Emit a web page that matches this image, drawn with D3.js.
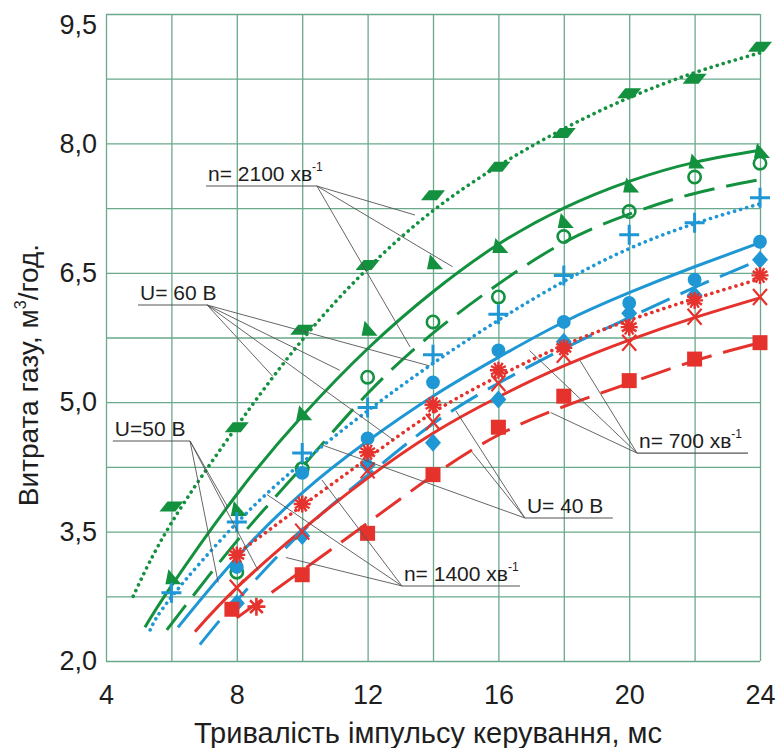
<!DOCTYPE html>
<html>
<head>
<meta charset="utf-8">
<script src="https://cdn.jsdelivr.net/npm/d3@7"></script>
<style>
  body { margin: 0; background: #fff; }
  svg text { font-family: "Liberation Sans", Arial, sans-serif; fill: #1e1e1e; }
</style>
</head>
<body>
<svg id="chart" width="782" height="748"></svg>
<script>
// axis ticks and grid
const xTicks = [4, 8, 12, 16, 20, 24];
const yTicks = [2.0, 3.5, 5.0, 6.5, 8.0, 9.5];
const xGrid = [4, 6, 8, 10, 12, 14, 16, 18, 20, 22, 24];
const yGrid = [2, 2.75, 3.5, 4.25, 5, 5.75, 6.5, 7.25, 8, 8.75, 9.5];

// n = 2100 (green)
const g60Points = [[6, 3.79], [8, 4.71], [10, 5.84], [12, 6.59], [14, 7.40], [16, 7.73], [18, 8.12], [20, 8.58], [22, 8.75], [24, 9.12]];
const g60Curve = [[4.83, 2.75], [6, 3.6], [8, 4.72], [10, 5.72], [12, 6.55], [14, 7.22], [16, 7.74], [18, 8.17], [20, 8.53], [22, 8.82], [24, 9.05]];
const g50Points = [[6, 2.96], [8, 3.75], [10, 4.86], [12, 5.84], [14, 6.61], [16, 6.80], [18, 7.09], [20, 7.50], [22, 7.78], [24, 7.90]];
const g50Curve = [[5.19, 2.39], [6, 2.87], [8, 3.93], [10, 4.84], [12, 5.62], [14, 6.28], [16, 6.83], [18, 7.25], [20, 7.56], [22, 7.78], [24, 7.92]];
const g40Points = [[8, 3.03], [10, 4.23], [12, 5.29], [14, 5.93], [16, 6.22], [18, 6.92], [20, 7.21], [22, 7.61], [24, 7.77]];
const g40Curve = [[5.86, 2.36], [8, 3.39], [10, 4.25], [12, 5.1], [14, 5.8], [16, 6.37], [18, 6.85], [20, 7.18], [22, 7.42], [24, 7.58]];

// n = 1400 (blue)
const b60Points = [[6, 2.79], [8, 3.61], [10, 4.41], [12, 4.94], [14, 5.55], [16, 6.02], [18, 6.47], [20, 6.94], [22, 7.08], [24, 7.37]];
const b60Curve = [[5.35, 2.36], [6, 2.74], [8, 3.6], [10, 4.3], [12, 4.9], [14, 5.45], [16, 5.95], [18, 6.4], [20, 6.78], [22, 7.07], [24, 7.3]];
const b50Points = [[8, 3.09], [10, 4.18], [12, 4.58], [14, 5.23], [16, 5.6], [18, 5.93], [20, 6.15], [22, 6.42], [24, 6.86]];
const b50Curve = [[6.2, 2.39], [8, 3.2], [10, 3.95], [12, 4.55], [14, 5.07], [16, 5.52], [18, 5.93], [20, 6.27], [22, 6.57], [24, 6.85]];
const b40Points = [[8, 2.67], [10, 3.45], [12, 4.27], [14, 4.53], [16, 5.03], [18, 5.7], [20, 6.03], [22, 6.24], [24, 6.65]];
const b40Curve = [[6.87, 2.19], [8, 2.7], [10, 3.5], [12, 4.15], [14, 4.75], [16, 5.22], [18, 5.62], [20, 5.98], [22, 6.33], [24, 6.65]];

// n = 700 (red)
const r60Points = [[8, 3.23], [10, 3.82], [12, 4.42], [14, 4.97], [16, 5.37], [18, 5.63], [20, 5.87], [22, 6.18], [24, 6.47]];
const r60Curve = [[8.1, 3.27], [10, 3.8], [12, 4.35], [14, 4.88], [16, 5.3], [18, 5.66], [20, 5.95], [22, 6.2], [24, 6.43]];
const r50Points = [[8, 2.85], [10, 3.5], [12, 4.21], [14, 4.77], [16, 5.22], [18, 5.55], [20, 5.69], [22, 5.99], [24, 6.22]];
const r50Curve = [[6.72, 2.34], [8, 2.85], [10, 3.52], [12, 4.12], [14, 4.64], [16, 5.06], [18, 5.42], [20, 5.72], [22, 5.98], [24, 6.21]];
const r40Points = [[7.85, 2.6], [10, 3.0], [12, 3.48], [14, 4.16], [16, 4.71], [18, 5.07], [20, 5.25], [22, 5.5], [24, 5.69]];
const r40Curve = [[8.0, 2.5], [10, 3.05], [12, 3.6], [14, 4.15], [16, 4.62], [18, 4.95], [20, 5.22], [22, 5.48], [24, 5.69]];
const r40Extra = [[8.6, 2.63]];

const GREEN = '#13913f', BLUE = '#1e97d4', RED = '#e5322d';

const seriesList = [
  { curve: g60Curve, points: g60Points, color: GREEN, line: 'dot', mark: 'para' },
  { curve: g50Curve, points: g50Points, color: GREEN, line: 'solid', mark: 'tri' },
  { curve: g40Curve, points: g40Points, color: GREEN, line: 'dash', mark: 'ring' },
  { curve: b60Curve, points: b60Points, color: BLUE, line: 'dot', mark: 'plus' },
  { curve: b50Curve, points: b50Points, color: BLUE, line: 'solid', mark: 'dot' },
  { curve: b40Curve, points: b40Points, color: BLUE, line: 'dash', mark: 'diamond' },
  { curve: r60Curve, points: r60Points, color: RED, line: 'dot', mark: 'star' },
  { curve: r50Curve, points: r50Points, color: RED, line: 'solid', mark: 'cross' },
  { curve: r40Curve, points: r40Points, color: RED, line: 'dash', mark: 'square' },
  { curve: null, points: r40Extra, color: RED, line: 'none', mark: 'star4' },
];

// callout labels: underline from x0 to x1 at y, leaders go to points on curves
const notes = [
  { text: 'n= 2100 хв', sup: '-1', x0: 7.06, x1: 10.45, y: 7.506, side: 'left', to: [[13.45, 7.17], [14.6, 6.57], [13.3, 5.64]] },
  { text: 'U= 60 В', sup: '', x0: 4.98, x1: 7.09, y: 6.127, side: 'left', to: [[9.1, 5.3], [11.15, 5.37], [12.8, 4.56], [13.9, 5.42]] },
  { text: 'U=50 В', sup: '', x0: 4.21, x1: 6.57, y: 4.55, side: 'left', to: [[7.43, 2.91], [7.73, 3.78], [8.65, 3.05]] },
  { text: 'U= 40 В', sup: '', x0: 16.81, x1: 19.5, y: 3.658, side: 'right', to: [[10.64, 4.5], [14.7, 4.9], [15.2, 4.42]] },
  { text: 'n= 700 хв', sup: '-1', x0: 20.24, x1: 23.63, y: 4.41, side: 'right', to: [[16.95, 5.6], [18.5, 5.48], [17.6, 4.88]] },
  { text: 'n= 1400 хв', sup: '-1', x0: 13.05, x1: 16.66, y: 2.87, side: 'right', to: [[8.92, 3.93], [10.6, 4.1], [9.5, 3.2]] },
];

const margin = { top: 14, left: 106, right: 22, bottom: 87 };
const W = 782, H = 748;
const w = W - margin.left - margin.right;
const h = H - margin.top - margin.bottom;

const svg = d3.select('#chart');
const g = svg.append('g').attr('transform', `translate(${margin.left},${margin.top})`);

const x = d3.scaleLinear().domain([4, 24]).range([0, w]);
const y = d3.scaleLinear().domain([2, 9.5]).range([h, 0]);

const locale = d3.formatLocale({ decimal: ',', thousands: ' ', grouping: [3], currency: ['', ''] });
const fmt1 = locale.format('.1f');

// grid
const gridColor = '#6aa98b';
g.append('g')
  .attr('transform', `translate(0,${h})`)
  .call(d3.axisBottom(x).tickValues(xGrid).tickSize(-h).tickFormat(''))
  .call(s => s.select('.domain').remove())
  .call(s => s.selectAll('line').attr('stroke', gridColor).attr('stroke-width', 1.3));
g.append('g')
  .call(d3.axisLeft(y).tickValues(yGrid).tickSize(-w).tickFormat(''))
  .call(s => s.select('.domain').remove())
  .call(s => s.selectAll('line').attr('stroke', gridColor).attr('stroke-width', 1.3));

// tick labels
g.append('g')
  .attr('transform', `translate(0,${h})`)
  .call(d3.axisBottom(x).tickValues(xTicks).tickSize(0).tickPadding(24).tickFormat(d3.format('d')))
  .call(s => s.select('.domain').remove())
  .call(s => s.selectAll('text').attr('font-size', 27).attr('font-family', null));
const yAxis = g.append('g')
  .call(d3.axisLeft(y).tickValues(yTicks).tickSize(0).tickPadding(9).tickFormat(fmt1))
  .call(s => s.select('.domain').remove())
  .call(s => s.selectAll('text').attr('font-size', 27).attr('font-family', null));
// top label sits a bit lower so it is not cut off
yAxis.selectAll('.tick').filter(d => d === 9.5).select('text').attr('y', 11);

// axis titles
svg.append('text')
  .attr('x', 428).attr('y', 743)
  .attr('text-anchor', 'middle')
  .attr('font-size', 29)
  .text('Тривалість імпульсу керування, мс');

const yt = svg.append('text')
  .attr('transform', 'translate(38,375) rotate(-90)')
  .attr('text-anchor', 'middle')
  .attr('font-size', 28);
yt.append('tspan').text('Витрата газу, м');
yt.append('tspan').attr('font-size', 16).attr('dy', -12).text('3');
yt.append('tspan').attr('dy', 12).text('/год.');

// curves
const line = d3.line()
  .x(d => x(d[0]))
  .y(d => y(d[1]))
  .curve(d3.curveNatural);

const dashes = { dot: '0.1 6.2', dash: '31 12', solid: null };

const curves = g.append('g').attr('fill', 'none');
seriesList.filter(s => s.curve).forEach(s => {
  curves.append('path')
    .attr('d', line(s.curve))
    .attr('stroke', s.color)
    .attr('stroke-width', s.line === 'dot' ? 3.6 : 3)
    .attr('stroke-linecap', s.line === 'dot' ? 'round' : 'butt')
    .attr('stroke-dasharray', dashes[s.line]);
});

// markers
function starPath(r, n) {
  let p = '';
  for (let i = 0; i < n; i++) {
    const a = Math.PI * i / n;
    p += `M${-r * Math.cos(a)},${-r * Math.sin(a)}L${r * Math.cos(a)},${r * Math.sin(a)}`;
  }
  return p;
}
const marks = {
  para: { d: 'M-4,-5L12,-5L4,5L-12,5Z', fill: true },
  tri: { d: 'M-3,-9L-6,6L10,6Z', fill: true },
  ring: { d: d3.symbol(d3.symbolCircle, 120)(), fill: false, sw: 2.6 },
  plus: { d: 'M-10,0H10M0,-10V10', fill: false, sw: 3 },
  dot: { d: d3.symbol(d3.symbolCircle, 150)(), fill: true },
  diamond: { d: 'M0,-9L8,0L0,9L-8,0Z', fill: true },
  star: { d: starPath(8.5, 6), fill: false, sw: 2.4 },
  star4: { d: starPath(9, 4), fill: false, sw: 2.6 },
  cross: { d: 'M-7,-8L7,8M-7,8L7,-8', fill: false, sw: 2.2 },
  square: { d: 'M-7.5,-7.5H7.5V7.5H-7.5Z', fill: true },
};

const markerLayer = g.append('g');
seriesList.forEach(s => {
  const m = marks[s.mark];
  markerLayer.selectAll(null)
    .data(s.points)
    .join('path')
    .attr('transform', d => `translate(${x(d[0])},${y(d[1])})`)
    .attr('d', m.d)
    .attr('fill', m.fill ? s.color : 'none')
    .attr('stroke', m.fill ? 'none' : s.color)
    .attr('stroke-width', m.sw || 0);
});

// callouts
const noteLayer = g.append('g');
notes.forEach(n => {
  const ox = n.side === 'left' ? n.x1 : n.x0;
  noteLayer.append('line')
    .attr('x1', x(n.x0)).attr('x2', x(n.x1))
    .attr('y1', y(n.y)).attr('y2', y(n.y))
    .attr('stroke', '#555').attr('stroke-width', 1.1);
  n.to.forEach(t => {
    noteLayer.append('line')
      .attr('x1', x(ox)).attr('y1', y(n.y))
      .attr('x2', x(t[0])).attr('y2', y(t[1]))
      .attr('stroke', '#555').attr('stroke-width', 0.9);
  });
  const tx = noteLayer.append('text')
    .attr('x', x(n.x0) + 2).attr('y', y(n.y) - 5)
    .attr('font-size', 21);
  tx.append('tspan').text(n.text);
  if (n.sup) tx.append('tspan').attr('font-size', 12).attr('dy', -10).text(n.sup);
});
</script>
</body>
</html>
